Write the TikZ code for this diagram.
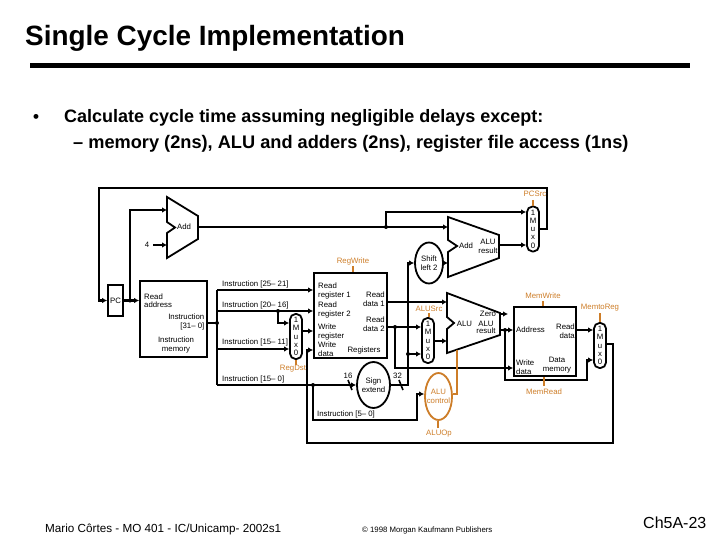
\documentclass[tikz,border=0pt]{standalone}
\usepackage{fontspec}
\setmainfont{Liberation Sans}
\usetikzlibrary{arrows.meta,shapes.geometric,calc}
\definecolor{ctl}{RGB}{205,125,40}
\tikzset{
 wire/.style={line width=2.5pt,black,line join=miter},
 awire/.style={wire,-{Latex[length=5pt,width=5.5pt]}},
 ctlw/.style={line width=2pt,ctl},
 unit/.style={draw=black,line width=1.8pt,fill=white,inner sep=0pt},
 muxbox/.style={unit,rounded corners=5.5pt,minimum width=12pt,align=center,font=\fontsize{7.8}{8.2}\selectfont},
 lab/.style={inner sep=0pt,font=\fontsize{7.8}{9}\selectfont,align=center,black},
 llab/.style={lab,anchor=west,align=left},
 clab/.style={lab,text=ctl},
 dot/.style={circle,fill=black,inner sep=0pt,minimum size=4pt},
}
\begin{document}
\begin{tikzpicture}[x=1pt,y=-1pt]
\useasboundingbox (0,0) rectangle (720,540);
% title
\node[anchor=base west,inner sep=0pt,font=\bfseries\fontsize{27.9}{30}\selectfont] (title) at (25,46) {Single Cycle Implementation};
\coordinate (ruleL) at (30,66); \coordinate (ruleR) at (690,66);
\draw[line width=5pt] (ruleL) -- (ruleR);
\node[anchor=base,inner sep=0pt,font=\bfseries\fontsize{17}{20}\selectfont] (bul) at (36,123) {•};
\node[anchor=base west,inner sep=0pt,font=\bfseries\fontsize{18}{20}\selectfont] (l1) at (64,123) {Calculate cycle time assuming negligible delays except:};
\node[anchor=base west,inner sep=0pt,font=\bfseries\fontsize{18.2}{20}\selectfont] (l2) at (73,149) {– memory (2ns), ALU and adders (2ns), register file access (1ns)};
% footer
\node[anchor=base west,inner sep=0pt,font=\fontsize{11.7}{14}\selectfont] (f1) at (45,532) {Mario Côrtes - MO 401 - IC/Unicamp- 2002s1};
\node[anchor=base west,inner sep=0pt,font=\fontsize{7.8}{9}\selectfont] (f2) at (362,532) {© 1998 Morgan Kaufmann Publishers};
\node[anchor=base west,inner sep=0pt,font=\fontsize{16}{17}\selectfont] (f3) at (643,528) {Ch5A-23};
% units
\node[unit,minimum width=15pt,minimum height=31pt] (pc) at (115.5,300.5) {};
\node[lab] at (pc) {PC};
\node[unit,minimum width=67pt,minimum height=76pt] (im) at (173.5,319) {};
\node[unit,minimum width=73pt,minimum height=85pt] (reg) at (350.5,315.5) {};
\node[unit,minimum width=62pt,minimum height=69pt] (dm) at (545,341.5) {};
\node[muxbox,minimum height=45pt] (mA) at (296,336.5) {1\\M\\u\\x\\0};
\node[muxbox,minimum height=45pt] (mB) at (428,340.5) {1\\M\\u\\x\\0};
\node[muxbox,minimum height=45pt] (mC) at (600,345.5) {1\\M\\u\\x\\0};
\node[muxbox,minimum height=45pt] (mD) at (533,229) {1\\M\\u\\x\\0};
\node[unit,ellipse,minimum width=28pt,minimum height=41pt] (shift) at (429,263) {};
\node[lab] at (shift) {Shift\\left 2};
\node[unit,ellipse,minimum width=33pt,minimum height=46pt] (sign) at (373.5,385) {};
\node[lab] at (sign) {Sign\\extend};
\node[unit,ellipse,draw=ctl,minimum width=27pt,minimum height=47pt] (ctlu) at (438.5,396.5) {};
\node[clab] at (ctlu) {ALU\\control};
% adders / ALU
\draw[unit] (167,197) -- (198,216) -- (198,239) -- (167,258) -- (167,233) -- (175,227.5) -- (167,222) -- cycle;
\coordinate (addA) at (167,210); \coordinate (addB) at (167,245); \coordinate (addO) at (198,227);
\draw[unit] (448,217) -- (499,235) -- (499,258) -- (448,277) -- (448,252) -- (457,246) -- (448,240) -- cycle;
\coordinate (add2A) at (448,227); \coordinate (add2B) at (448,263); \coordinate (add2O) at (499,245);
\draw[unit] (447,293) -- (500,313) -- (500,335) -- (447,353) -- (447,329) -- (454,323) -- (447,317) -- cycle;
\coordinate (aluA) at (447,302); \coordinate (aluB) at (447,341); \coordinate (aluO) at (500,330); \coordinate (aluZ) at (500,314);
% helper coordinates
\coordinate (topL) at (99,188); \coordinate (topR) at (547,188); \coordinate (jPC) at (130,300.5);
\coordinate (jI) at (217,323); \coordinate (jAdd) at (386,227); \coordinate (zeroE) at (508,314);
\coordinate (j2016) at (278,311); \coordinate (jS) at (408,385); \coordinate (jS2) at (408,354);
\coordinate (jRD2) at (395,327); \coordinate (jALU) at (505,330); \coordinate (j50) at (313,385);
\coordinate (four) at (153,245);
% wires
\draw[awire] (mD.east) -- (547,229) -- (topR) -- (topL) |- (pc.west);
\draw[awire] (pc.east) -- (im.west |- pc.east);
\draw[awire] (jPC) |- (addA);
\draw[awire] (four) -- (addB);
\draw[awire] (addO) -- (add2A);
\draw[awire] (jAdd) |- (mD.west |- 0,212);
\draw[awire] (add2O) -- (mD.west |- add2O);
\draw[awire] (shift.east) -- (add2B);
\draw[wire] (im.east |- jI) -- (jI);
\draw[wire] (217,290) -- (217,385);
\draw[awire] (217,290) -- (reg.west |- 0,290);
\draw[awire] (217,311) -- (reg.west |- 0,311);
\draw[awire] (j2016) |- (mA.west |- 0,323);
\draw[awire] (217,349) -- (mA.west |- 0,349);
\draw[awire] (217,385) -- (sign.west);
\draw[awire] (mA.east |- 0,331) -- (reg.west |- 0,331);
\draw[awire] (reg.east |- 0,302) -- (aluA);
\draw[awire] (reg.east |- 0,327) -- (mB.west |- 0,327);
\draw[awire] (sign.east) -- (jS) -- (408,263) -- (shift.west);
\draw[awire] (jS2) -- (mB.west |- jS2);
\draw[awire] (jRD2) -- (395,368) -- (dm.west |- 0,368);
\draw[awire] (mB.east |- aluB) -- (aluB);
\draw[awire] (aluZ) -- (zeroE);
\draw[awire] (aluO) -- (dm.west |- aluO);
\draw[awire] (jALU) -- (505,380) -- (587,380) -- (587,360) -- (mC.west |- 0,360);
\draw[awire] (dm.east |- 0,330) -- (mC.west |- 0,330);
\draw[awire] (mC.east |- 0,344) -- (613,344) -- (613,443) -- (307,443) -- (307,350) -- (reg.west |- 0,350);
\draw[awire] (j50) -- (313,420) -- (417,420) -- (417,394) -- (ctlu.west |- 0,394);
% ticks
\coordinate (t1a) at (348,380); \coordinate (t1b) at (352,390);
\coordinate (t2a) at (399,380); \coordinate (t2b) at (403,390);
\draw[line width=1.6pt] (t1a) -- (t1b);
\draw[line width=1.6pt] (t2a) -- (t2b);
% junction dots
\foreach \p in {jPC,jAdd,j2016,jRD2,jS2,jALU,j50,jI} \node[dot] at (\p) {};
% control lines
\draw[ctlw] (457,350) -- (457,394) -- (ctlu.east |- 0,394);
\coordinate (c1) at (353,266); \coordinate (c2) at (533,200); \coordinate (c3) at (429,313);
\coordinate (c4) at (543,301); \coordinate (c5) at (544,386); \coordinate (c6) at (600,313);
\coordinate (c7) at (296,365); \coordinate (c8) at (438,428);
\draw[ctlw] (c1) -- (reg.north -| c1);
\draw[ctlw] (c2) -- (mD.north);
\draw[ctlw] (c3) -- (c3 |- mB.north);
\draw[ctlw] (c4) -- (c4 |- dm.north);
\draw[ctlw] (c5) -- (c5 |- dm.south);
\draw[ctlw] (c6) -- (mC.north);
\draw[ctlw] (c7) -- (mA.south);
\draw[ctlw] (c8) -- (c8 |- ctlu.south);
% control labels
\node[clab] at (353,261) {RegWrite};
\node[clab] at (535,194) {PCSrc};
\node[clab] at (429,309) {ALUSrc};
\node[clab] at (543,296) {MemWrite};
\node[clab] at (544,392) {MemRead};
\node[clab] at (600,308) {MemtoReg};
\node[clab] at (293,369) {RegDst};
\node[clab] at (439,434) {ALUOp};
% text labels
\node[lab] at (184,227) {Add};
\node[lab] at (147,245) {4};
\node[lab] at (466,246) {Add};
\node[lab] at (488,246) {ALU\\result};
\node[lab] at (464.5,324) {ALU};
\node[lab] at (488,314) {Zero};
\node[lab] at (486,327) {ALU\\[-2pt]result};
\node[llab] at (144,297) {Read};
\node[llab] at (144,305) {address};
\node[lab,anchor=east,align=right] at (204.5,321.5) {Instruction\\{}[31– 0]};
\node[lab] at (176,345) {Instruction\\memory};
\node[llab] at (222,284) {Instruction [25– 21]};
\node[llab] at (222,305) {Instruction [20– 16]};
\node[llab] at (222,342) {Instruction [15– 11]};
\node[llab] at (222,379) {Instruction [15– 0]};
\node[llab] at (317,414) {Instruction [5– 0]};
\node[lab] at (348,376) {16};
\node[lab] at (397.5,376) {32};
\node[llab] at (318,291) {Read\\register 1};
\node[llab] at (318,309.5) {Read\\register 2};
\node[llab] at (318,331.5) {Write\\register};
\node[llab] at (318,349.5) {Write\\data};
\node[lab,anchor=east,align=right] at (385,299) {Read\\data 1};
\node[lab,anchor=east,align=right] at (385,324) {Read\\data 2};
\node[lab] at (364,350) {Registers};
\node[llab] at (516,330) {Address};
\node[lab,anchor=east,align=right] at (575,331) {Read\\data};
\node[llab] at (516,367) {Write\\data};
\node[lab] at (557,365) {Data\\memory};
\end{tikzpicture}
\end{document}
